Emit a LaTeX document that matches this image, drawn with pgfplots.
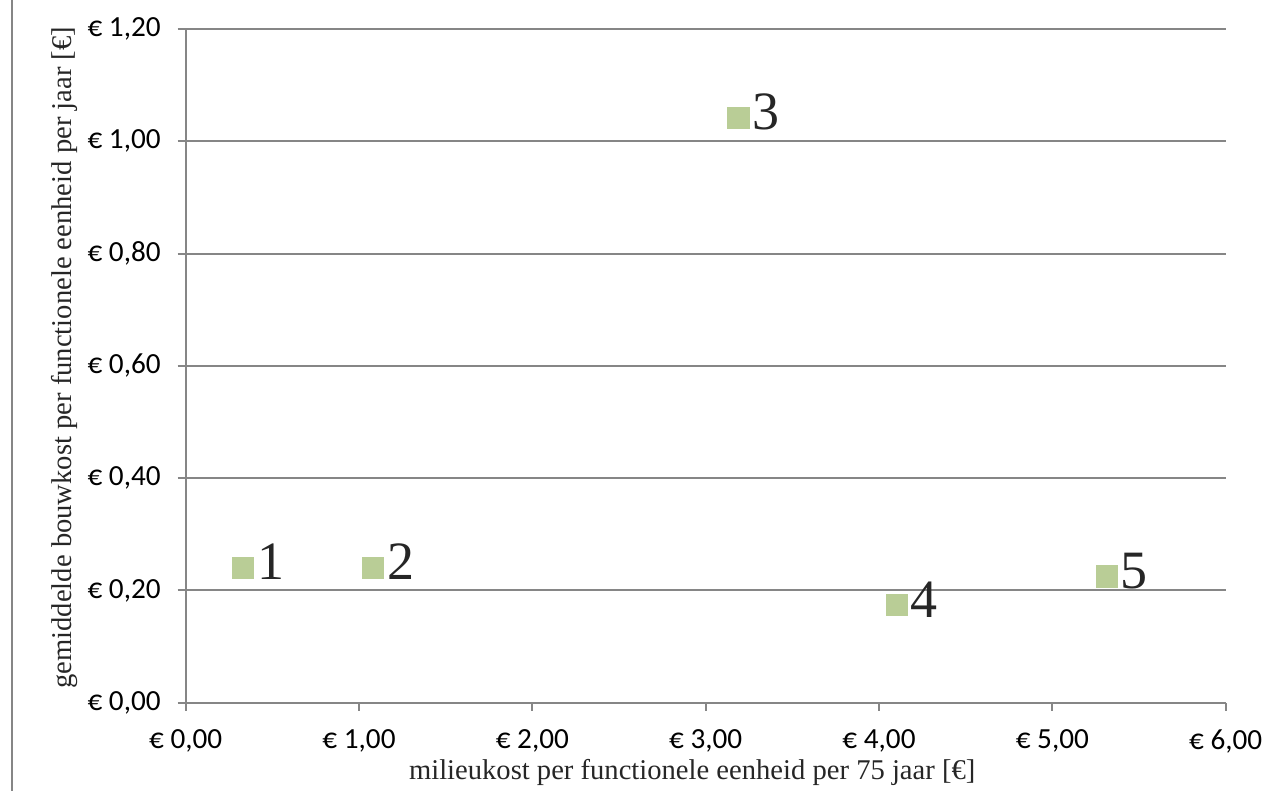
\documentclass[border=0pt]{standalone}
\usepackage{pgfplots}
\pgfplotsset{compat=1.18}
\usepackage{fontspec}
\setmainfont{Liberation Serif}
\newfontfamily\tickfont{Carlito}
\definecolor{markgreen}{RGB}{185,205,150}
\definecolor{gridgray}{RGB}{134,134,134}

\pgfplotstableread{
x     y      label
0.331 0.240  1
1.081 0.240  2
3.189 1.042  3
4.101 0.174  4
5.313 0.225  5
}\varianten

\begin{document}
\begin{tikzpicture}
\useasboundingbox (0,0) rectangle (632.5pt,395.5pt);
\draw[gridgray, line width=1pt] (6.15pt,0) -- (6.15pt,395.5pt);
\begin{axis}[
  at={(92.85pt,44.15pt)}, anchor=south west,
  scale only axis, width=520pt, height=336.85pt,
  xmin=0, xmax=6, ymin=0, ymax=1.2,
  axis x line*=bottom, axis y line*=left,
  axis line style={gridgray, line width=1pt},
  tick align=outside, major tick length=4pt,
  tick style={gridgray, line width=1pt},
  xtick={0,1,2,3,4,5,6},
  xticklabels={{€ 0,00},{€ 1,00},{€ 2,00},{€ 3,00},{€ 4,00},{€ 5,00},{€ 6,00}},
  ytick={0,0.2,0.4,0.6,0.8,1.0,1.2},
  yticklabels={{€ 0,00},{€ 0,20},{€ 0,40},{€ 0,60},{€ 0,80},{€ 1,00},{€ 1,20}},
  ticklabel style={font=\tickfont\fontsize{14.6}{17}\selectfont, text=black},
  yticklabel style={anchor=east, xshift=-5pt},
  xticklabel style={yshift=-6pt},
  ymajorgrids, grid style={gridgray, line width=1pt},
  xlabel={milieukost per functionele eenheid per 75 jaar [€]},
  ylabel={gemiddelde bouwkost per functionele eenheid per jaar [€]},
  label style={font=\fontsize{14.3}{17}\selectfont, text=black!85},
  xlabel style={at={(axis description cs:0.487,0)}, anchor=base, yshift=-38.65pt},
  ylabel style={at={(axis description cs:0,0.512)}, anchor=base, yshift=56.85pt},
  clip=false,
]
\addplot[only marks, mark=square*, mark size=5.3pt,
  mark options={fill=markgreen, draw=markgreen},
  point meta=explicit symbolic,
  nodes near coords,
  nodes near coords style={anchor=base west, inner sep=0pt, xshift=6.8pt, yshift=-6pt,
    font=\fontsize{27}{31}\selectfont, text=black!85}]
  table[x=x, y=y, meta=label] {\varianten};
\end{axis}
\end{tikzpicture}
\end{document}
